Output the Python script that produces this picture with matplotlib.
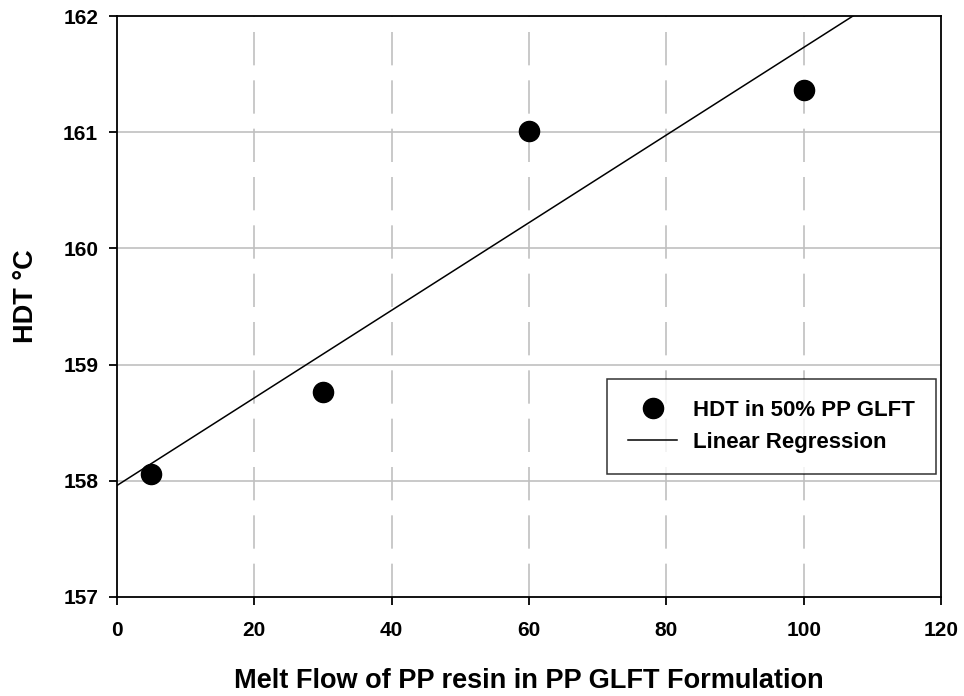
import numpy as np
import matplotlib
matplotlib.use("Agg")
import matplotlib.pyplot as plt

plt.rcParams['font.family'] = ['Liberation Sans', 'DejaVu Sans']
plt.rcParams['font.weight'] = 'bold'

# data
melt_flow = [5, 30, 60, 100]
hdt = [158.06, 158.76, 161.01, 161.36]
x_ticks = [0, 20, 40, 60, 80, 100, 120]
y_ticks = [157, 158, 159, 160, 161, 162]

slope, intercept = np.polyfit(melt_flow, hdt, 1)
x_fit = np.array([0, 120])
y_fit = intercept + slope * x_fit

fig = plt.figure(figsize=(9.64, 6.96), dpi=100)
ax = fig.add_axes([117/964, 1 - 597/696, (941-117)/964, (597-16)/696])

# grid: solid horizontal, dashed vertical
for y in y_ticks[1:-1]:
    ax.axhline(y, color='#c0c0c0', lw=1.2, zorder=0)
for x in x_ticks[1:-1]:
    ax.axvline(x, color='#c0c0c0', lw=1.2, dashes=(20, 9), zorder=0)

ax.plot(melt_flow, hdt, 'o', color='black', ms=14.5, label='HDT in 50% PP GLFT', zorder=3)
ax.plot(x_fit, y_fit, '-', color='black', lw=1.1, label='Linear Regression', zorder=2)

ax.set_xlim(0, 120)
ax.set_ylim(157, 162)
ax.set_xticks(x_ticks)
ax.set_yticks(y_ticks)
ax.tick_params(direction='out', length=5.5, width=1.3, labelsize=15)
ax.tick_params(axis='x', pad=12)
ax.tick_params(axis='y', pad=8)
for s in ax.spines.values():
    s.set_linewidth(1.3)

ax.set_xlabel('Melt Flow of PP resin in PP GLFT Formulation', fontsize=19.5, fontweight='bold', labelpad=20)
ax.set_ylabel('HDT °C', fontsize=19.5, fontweight='bold')
ax.yaxis.set_label_coords(-0.095, 0.517)

leg = ax.legend(loc='upper left', bbox_to_anchor=((607-117)/824, (597-379)/581),
                fontsize=16, frameon=True, fancybox=False, edgecolor='black',
                borderpad=0.95, handlelength=2.2, handletextpad=0.7, labelspacing=0.5,
                borderaxespad=0)
leg.get_frame().set_linewidth(1.1)

fig.savefig('out.png', dpi=100)
